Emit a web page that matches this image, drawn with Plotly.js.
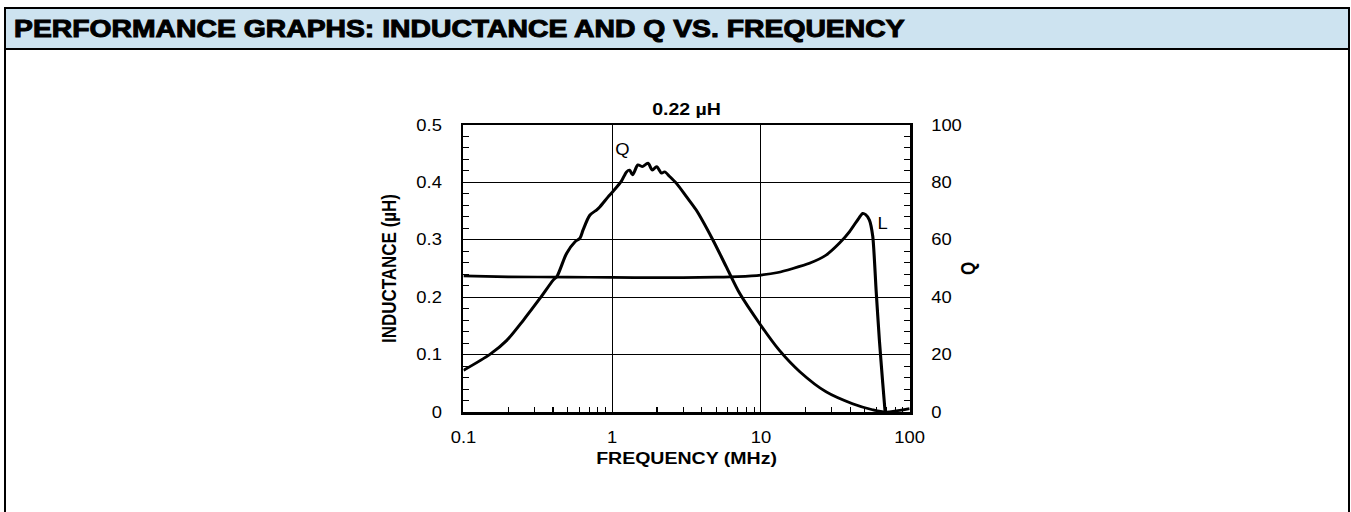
<!DOCTYPE html>
<html>
<head>
<meta charset="utf-8">
<script src="https://cdn.plot.ly/plotly-3.0.1.min.js"></script>
<style>
  html, body { margin: 0; padding: 0; background: #ffffff; width: 1351px; height: 512px; overflow: hidden; }
  #frame { position: absolute; left: 4px; top: 7px; width: 1342px; height: 600px; border: 2px solid #000; }
  #header { position: absolute; left: 0; top: 0; width: 1342px; height: 39px; background: #cde3f0; border-bottom: 2px solid #000; }
  #htext { position: absolute; left: 8px; top: 6px; font-family: "Liberation Sans", Arial, sans-serif; font-weight: bold; font-size: 24px; line-height: 28px; color: #000; white-space: nowrap; transform: scaleX(1.18); transform-origin: left center; -webkit-text-stroke: 1px #000; }
  #chart { position: absolute; left: 0; top: 0; width: 1175px; height: 512px; transform: scaleX(1.15); transform-origin: left top; }
</style>
</head>
<body>
<div id="frame"><div id="header"><div id="htext">PERFORMANCE GRAPHS: INDUCTANCE AND Q VS. FREQUENCY</div></div></div>
<div id="chart"></div>
<script>
// Frequency (MHz) and inductance (µH) for the L curve
const freqL = [0.1, 0.2, 0.5, 1, 2, 3, 5, 7, 10, 13, 16.4, 21.2, 27.5, 33.7, 39.4, 45.9, 48.4, 50.5, 53.6, 56.5, 59.5, 62.6, 65.9, 68.4];
const inductance = [0.237, 0.2355, 0.235, 0.2345, 0.234, 0.234, 0.235, 0.236, 0.2386, 0.243, 0.250, 0.259, 0.2735, 0.294, 0.314, 0.339, 0.346, 0.344, 0.3346, 0.306, 0.212, 0.125, 0.0506, 0.0];

// Frequency (MHz) and Q values for the Q curve
const freqQ = [0.1, 0.151, 0.196, 0.253, 0.327, 0.402, 0.424, 0.494, 0.562, 0.606, 0.637, 0.708, 0.786, 0.827, 0.94, 1.01, 1.15, 1.25, 1.31, 1.37, 1.49, 1.59, 1.74, 1.86, 1.99, 2.15, 2.25, 2.44, 2.7, 3.16, 3.67, 4.76, 5.85, 7.2, 9.8, 13.3, 18.3, 27.5, 41.3, 56.2, 69, 100];
const qValues = [14.5, 20.1, 25, 32, 39.6, 46, 47.1, 55.3, 59.3, 60.5, 63.4, 68.6, 70.4, 71.5, 75, 76.8, 80.3, 83.7, 84.3, 82.6, 86.1, 85.5, 86.7, 84.3, 85.5, 83.2, 83.7, 82, 79.7, 75, 70.4, 59.9, 50.6, 41.3, 30.8, 21.5, 14, 7, 2.9, 0.8, 0, 1.2];

// Axis tick labels
const xTickVals = [0.1, 1, 10, 100];
const xTickText = ["0.1", "1", "10", "100"];

const chartTitle = "0.22 µH";
const xTitle = "FREQUENCY (MHz)";
const yTitle = "INDUCTANCE (µH)";
const y2Title = "Q";

const FONT = '"Liberation Sans", Arial, sans-serif';
const TICKFONT = { family: FONT, size: 16, color: '#000' };
const TITLEFONT = { family: FONT, size: 17, color: '#000' };

const traces = [
  { x: freqL, y: inductance, type: 'scatter', mode: 'lines', name: 'L', yaxis: 'y',
    line: { color: '#000', width: 2.7, shape: 'spline', smoothing: 0.6 }, cliponaxis: true },
  { x: freqQ, y: qValues, type: 'scatter', mode: 'lines', name: 'Q', yaxis: 'y2',
    line: { color: '#000', width: 2.7, shape: 'spline', smoothing: 0.8 }, cliponaxis: true }
];

const layout = {
  width: 1175, height: 512,
  margin: { l: 402.6, r: 383.7, t: 125, b: 100, pad: 0 },
  paper_bgcolor: 'rgba(0,0,0,0)',
  plot_bgcolor: 'rgba(0,0,0,0)',
  showlegend: false,
  font: { family: FONT, size: 16, color: '#000' },
  title: { text: '<b>' + chartTitle + '</b>', font: TITLEFONT,
           x: 0.5, xref: 'paper', xanchor: 'center', y: 1 - 109 / 512, yref: 'container', yanchor: 'middle' },
  xaxis: {
    type: 'log', range: [-1, 2], tickvals: xTickVals, ticktext: xTickText,
    ticks: 'inside', ticklen: 5, tickcolor: '#000', tickwidth: 1,
    showgrid: true, gridcolor: '#000', gridwidth: 1,
    showline: true, linecolor: '#000', linewidth: 2.5, mirror: true,
    zeroline: false, ticklabelstandoff: 9,
    tickfont: TICKFONT,
    minor: { ticks: 'inside', ticklen: 5, tickcolor: '#000', tickwidth: 1, showgrid: false, dtick: 'D1' },
    title: { text: '<b>' + xTitle + '</b>', font: TITLEFONT, standoff: 8 }
  },
  yaxis: {
    range: [0, 0.5], dtick: 0.1, tick0: 0,
    ticks: 'inside', ticklen: 5, tickcolor: '#000', tickwidth: 1,
    showgrid: true, gridcolor: '#000', gridwidth: 1,
    showline: true, linecolor: '#000', linewidth: 2.5, mirror: true,
    zeroline: false, ticklabelstandoff: 13,
    tickfont: TICKFONT,
    minor: { ticks: 'inside', ticklen: 5, tickcolor: '#000', tickwidth: 1, showgrid: false, dtick: 0.02 },
    title: { text: '<b>' + yTitle + '</b>', font: TITLEFONT, standoff: 13 }
  },
  yaxis2: {
    overlaying: 'y', side: 'right', range: [0, 100], dtick: 20, tick0: 0,
    ticks: 'inside', ticklen: 5, tickcolor: '#000', tickwidth: 1,
    showgrid: false, showline: true, linecolor: '#000', linewidth: 2.5,
    zeroline: false, ticklabelstandoff: 13,
    tickfont: TICKFONT,
    minor: { ticks: 'inside', ticklen: 5, tickcolor: '#000', tickwidth: 1, showgrid: false, dtick: 4 },
    title: { text: '<b>' + y2Title + '</b>', font: TITLEFONT, standoff: 1 }
  },
  annotations: [
    { x: Math.log10(1.17), y: 91.3, xref: 'x', yref: 'y2', text: 'Q', showarrow: false, font: TICKFONT },
    { x: Math.log10(66.1), y: 65.8, xref: 'x', yref: 'y2', text: 'L', showarrow: false, font: TICKFONT }
  ]
};

Plotly.newPlot('chart', traces, layout, { staticPlot: true, displayModeBar: false });
</script>
</body>
</html>
